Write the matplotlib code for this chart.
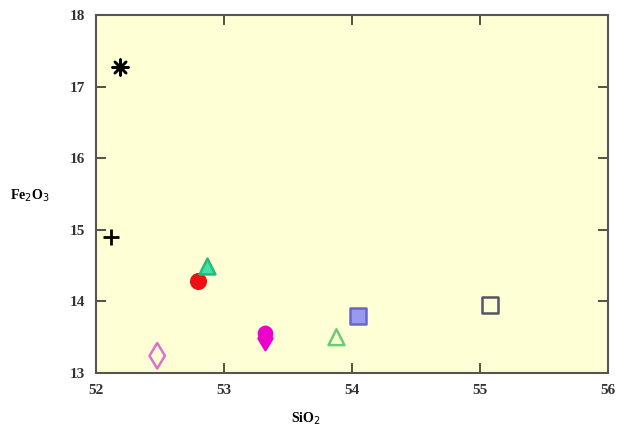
import matplotlib
matplotlib.use("Agg")
import matplotlib.pyplot as plt

# data
labels = ["asterisk", "plus", "red circle", "green triangle", "pink diamond",
          "magenta circle", "magenta diamond", "green open triangle",
          "blue square", "open square"]
sio2 = [52.19, 52.12, 52.80, 52.87, 52.48, 53.32, 53.32, 53.88, 54.05, 55.08]
fe2o3 = [17.28, 14.90, 14.29, 14.49, 13.24, 13.56, 13.49, 13.50, 13.80, 13.95]
markers = ["*", "+", "o", "^", "d", "o", "d", "^", "s", "s"]
faces = ["black", "black", "#ee1111", "#44e0a8", "none", "#ee00cc", "#ee00cc", "none", "#9999ee", "none"]
edges = ["black", "black", "#ee1111", "#22bb77", "#e070c8", "#ee00cc", "#ee00cc", "#66cc77", "#6666cc", "#555566"]
sizes = [130, 140, 110, 130, 170, 90, 140, 130, 130, 130]

plt.rcParams['font.family'] = ['Liberation Serif', 'DejaVu Serif']
fig = plt.figure(figsize=(6.3, 4.34), dpi=100)
ax = fig.add_axes([0.152, 0.1406, 0.813, 0.8248])
ax.set_facecolor("#ffffd6")

for x, y, m, fc, ec, s in zip(sio2, fe2o3, markers, faces, edges, sizes):
    if m == "+":
        ax.scatter([x], [y], marker=m, s=s, c=ec, linewidths=2, zorder=3)
    elif m == "*":
        ax.scatter([x], [y], marker=(8, 2, 0), s=s, c=ec, linewidths=1.8, zorder=3)
    else:
        ax.scatter([x], [y], marker=m, s=s, facecolors=fc,
                   edgecolors=ec, linewidths=1.8, zorder=3)

ax.set_xlim(52, 56)
ax.set_ylim(13, 18)
ax.set_xticks([52, 53, 54, 55, 56])
ax.set_yticks([13, 14, 15, 16, 17, 18])
ax.tick_params(direction="in", length=7, width=1.2, top=True, right=True,
               labelsize=11, pad=8, colors="#333333")
for lab in ax.get_xticklabels() + ax.get_yticklabels():
    lab.set_fontweight("bold")
for sp in ax.spines.values():
    sp.set_linewidth(1.5)
    sp.set_color("#555555")

fig.text(0.048, 0.55, "Fe$_2$O$_3$", fontsize=10, fontweight="bold", ha="center", va="center")
fig.text(0.485, 0.035, "SiO$_2$", fontsize=10, fontweight="bold", ha="center", va="center")

fig.savefig("out.png", dpi=100)
